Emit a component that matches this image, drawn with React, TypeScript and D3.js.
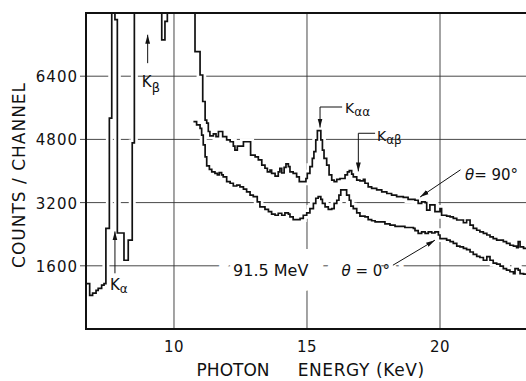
import * as d3 from "d3";
import type { ReactNode } from "react";

const WIDTH = 526;
const HEIGHT = 381;
const MARGIN = { top: 13, right: 0, bottom: 52, left: 86 };

const xTicks = [10, 15, 20];
const yTicks = [1600, 3200, 4800, 6400];

// channels that run past the top of the frame
const OFF = 9000;

// theta = 90 deg : [photon energy (keV), counts / channel]
const theta90: [number, number][] = [
  [6.7, 1150], [6.83, 850], [6.94, 910], [7.07, 980], [7.15, 1030], [7.28, 1110],
  [7.37, 1150], [7.44, 2550], [7.57, 5340], [7.66, OFF], [7.78, 7830], [7.87, 2430],
  [8.12, 1740], [8.28, 2250], [8.43, 4710], [8.51, OFF], [9.54, 7320], [9.66, 7790],
  [9.75, OFF], [10.79, 7020], [10.98, 6430], [11.08, 5760], [11.17, 5290], [11.23, 5210],
  [11.29, 5000], [11.35, 4890], [11.48, 4940], [11.58, 4870], [11.67, 5000], [11.83, 4870],
  [11.98, 4790], [12.11, 4740], [12.23, 4630], [12.29, 4530], [12.38, 4630], [12.61, 4740],
  [12.88, 4400], [13.05, 4360], [13.17, 4280], [13.3, 4150], [13.42, 4070], [13.51, 3980],
  [13.61, 4020], [13.67, 3940], [13.8, 3870], [13.92, 3980], [13.98, 4070], [14.05, 3950],
  [14.14, 4090], [14.21, 4180], [14.3, 4110], [14.36, 3980], [14.48, 3940], [14.61, 3850],
  [14.71, 3730], [14.96, 3810], [15.01, 3940], [15.11, 4110], [15.2, 4320], [15.26, 4490],
  [15.33, 4790], [15.39, 5020], [15.52, 4790], [15.58, 4530], [15.64, 4320], [15.74, 4150],
  [15.83, 3900], [15.93, 3770], [16.02, 3730], [16.12, 3790], [16.24, 3810], [16.43, 3900],
  [16.52, 3980], [16.59, 4010], [16.68, 3920], [16.74, 3850], [16.87, 3770], [16.99, 3750],
  [17.12, 3790], [17.18, 3690], [17.3, 3600], [17.43, 3560], [17.62, 3520], [17.81, 3470],
  [18.0, 3430], [18.18, 3390], [18.37, 3350], [18.62, 3330], [18.8, 3280], [19.06, 3260],
  [19.18, 3180], [19.31, 3220], [19.44, 3200], [19.5, 3010], [19.62, 3140], [19.81, 2970],
  [20.0, 3050], [20.06, 2880], [20.25, 2860], [20.38, 2840], [20.5, 2800], [20.63, 2760],
  [20.88, 2690], [21.0, 2760], [21.13, 2630], [21.25, 2550], [21.38, 2500], [21.5, 2460],
  [21.63, 2420], [21.76, 2380], [21.88, 2330], [22.0, 2290], [22.13, 2250], [22.38, 2210],
  [22.5, 2170], [22.63, 2120], [22.76, 2100], [22.88, 2060], [22.94, 2210], [23.01, 2080],
  [23.14, 2040], [23.3, 2040],
];

// theta = 0 deg
const theta0: [number, number][] = [
  [10.73, 5250], [10.85, 5170], [10.98, 5080], [11.04, 4910], [11.1, 4660], [11.17, 4360],
  [11.23, 4130], [11.33, 4040], [11.42, 3980], [11.54, 3940], [11.63, 3900], [11.7, 3960],
  [11.79, 3900], [11.85, 3850], [11.98, 3730], [12.11, 3690], [12.23, 3620], [12.36, 3640],
  [12.48, 3600], [12.61, 3540], [12.73, 3470], [12.86, 3390], [12.98, 3350], [13.13, 3220],
  [13.23, 3090], [13.42, 3030], [13.55, 2970], [13.67, 2910], [13.8, 2880], [13.92, 2930],
  [14.05, 2880], [14.17, 2940], [14.3, 2910], [14.36, 2840], [14.48, 2770], [14.74, 2800],
  [14.86, 2880], [14.99, 2940], [15.11, 3050], [15.24, 3180], [15.33, 3310], [15.42, 3350],
  [15.52, 3280], [15.58, 3180], [15.68, 3090], [15.8, 3030], [15.93, 3050], [16.02, 3180],
  [16.12, 3260], [16.2, 3390], [16.27, 3520], [16.49, 3390], [16.59, 3260], [16.65, 3110],
  [16.74, 3050], [16.87, 2940], [16.99, 2860], [17.18, 2840], [17.3, 2770], [17.43, 2740],
  [17.56, 2710], [17.93, 2660], [18.12, 2630], [18.31, 2600], [18.68, 2570], [19.0, 2550],
  [19.06, 2490], [19.18, 2420], [19.31, 2460], [19.44, 2420], [19.56, 2460], [19.69, 2430],
  [19.81, 2460], [19.94, 2380], [20.0, 2290], [20.25, 2250], [20.38, 2210], [20.5, 2170],
  [20.63, 2100], [20.75, 2080], [20.88, 2040], [21.0, 2010], [21.13, 1950], [21.25, 1890],
  [21.38, 1840], [21.5, 1810], [21.63, 1740], [21.76, 1830], [21.88, 1740], [22.0, 1670],
  [22.13, 1640], [22.26, 1590], [22.38, 1530], [22.5, 1490], [22.63, 1450], [22.76, 1400],
  [22.82, 1530], [22.94, 1490], [23.01, 1400], [23.14, 1390], [23.3, 1390],
];

const FONT = "'DejaVu Sans', sans-serif";
const INK = "#111";

// text drawn over a white outline of itself, so the grid breaks around it
const HaloText = ({
  x,
  y,
  size,
  halo,
  children,
}: {
  x: number;
  y: number;
  size: number;
  halo: number;
  children: ReactNode;
}) => (
  <g>
    <text x={x} y={y} fontSize={size} fill="white" stroke="white" strokeWidth={halo} strokeLinejoin="round" aria-hidden="true">
      {children}
    </text>
    <text x={x} y={y} fontSize={size} fill={INK}>
      {children}
    </text>
  </g>
);

export default function App() {
  const boundsWidth = WIDTH - MARGIN.left - MARGIN.right;
  const boundsHeight = HEIGHT - MARGIN.top - MARGIN.bottom;

  const x = d3.scaleLinear().domain([6.692, 23.233]).range([0, boundsWidth]);
  const y = d3.scaleLinear().domain([0, 8000]).range([boundsHeight, 0]);

  const lineBuilder = d3
    .line<[number, number]>()
    .x((d) => x(d[0]))
    .y((d) => y(d[1]))
    .curve(d3.curveStepAfter);

  const curves = [theta90, theta0].map((s) => lineBuilder(s) || "");

  return (
    <svg
      width={WIDTH}
      height={HEIGHT}
      style={{ position: "absolute", left: 0, top: 0, background: "white" }}
      fontFamily={FONT}
    >
      <defs>
        <clipPath id="plot-clip">
          <rect x={0} y={0} width={boundsWidth} height={boundsHeight} />
        </clipPath>
        <marker
          id="arrow"
          viewBox="0 0 10 10"
          refX={10}
          refY={5}
          markerWidth={9}
          markerHeight={9}
          markerUnits="userSpaceOnUse"
          orient="auto"
        >
          <path d="M0,2.3 L10,5 L0,7.7 z" fill={INK} />
        </marker>
      </defs>
      <g transform={`translate(${MARGIN.left},${MARGIN.top})`}>
        {/* grid */}
        {yTicks.map((t) => (
          <line key={"gy" + t} x1={-6} x2={boundsWidth} y1={y(t)} y2={y(t)} stroke="#333" strokeWidth={0.9} />
        ))}
        {xTicks.map((t) => (
          <line key={"gx" + t} x1={x(t)} x2={x(t)} y1={0} y2={boundsHeight} stroke="#333" strokeWidth={0.9} />
        ))}

        {/* spectra */}
        <g clipPath="url(#plot-clip)">
          {curves.map((d, i) => (
            <path key={"h" + i} d={d} fill="none" stroke="white" strokeWidth={7} />
          ))}
          {curves.map((d, i) => (
            <path key={"c" + i} d={d} fill="none" stroke={INK} strokeWidth={1.7} />
          ))}
        </g>

        {/* tick labels */}
        {yTicks.map((t) => (
          <text key={"ly" + t} x={-8} y={y(t)} dy="0.4em" textAnchor="end" fontSize={15} letterSpacing={1} fill={INK}>
            {t}
          </text>
        ))}
        {xTicks.map((t) => (
          <text key={"lx" + t} x={x(t)} y={boundsHeight + 23} textAnchor="middle" fontSize={15} letterSpacing={0.5} fill={INK}>
            {t}
          </text>
        ))}

        {/* axis titles */}
        <text x={x(10.85)} y={boundsHeight + 47} fontSize={17} fill={INK}>PHOTON</text>
        <text x={x(14.65)} y={boundsHeight + 47} fontSize={17} letterSpacing={0.6} fill={INK}>ENERGY (KeV)</text>
        <text
          transform={`translate(${-61},${y(3900)}) rotate(-90)`}
          textAnchor="middle"
          fontSize={17}
          letterSpacing={1}
          fill={INK}
        >
          COUNTS / CHANNEL
        </text>

        {/* labels */}
        <text x={x(7.59)} y={y(980)} fontSize={15} fill={INK}>
          K<tspan fontSize={12} dy={3}>α</tspan>
        </text>
        <text x={x(8.79)} y={y(6120)} fontSize={15} fill={INK}>
          K<tspan fontSize={13} dy={5}>β</tspan>
        </text>
        <text x={x(16.43)} y={y(5480)} fontSize={14} fill={INK}>
          K<tspan fontSize={12} dy={3}>αα</tspan>
        </text>
        <text x={x(17.63)} y={y(4760)} fontSize={14} fill={INK}>
          K<tspan fontSize={12} dy={3}>αβ</tspan>
        </text>
        <HaloText x={x(20.94)} y={y(3771)} size={15} halo={9}>
          <tspan fontStyle="italic">θ</tspan>= 90°
        </HaloText>
        <HaloText x={x(16.3)} y={y(1336)} size={15} halo={30}>
          <tspan fontStyle="italic">θ</tspan> = 0°
        </HaloText>
        <HaloText x={x(12.22)} y={y(1336)} size={16} halo={30}>
          91.5 MeV
        </HaloText>

        {/* arrows */}
        <line x1={x(7.78)} x2={x(7.78)} y1={y(1410)} y2={y(2470)} stroke={INK} strokeWidth={1} markerEnd="url(#arrow)" />
        <line x1={x(9.01)} x2={x(9.01)} y1={y(6730)} y2={y(7450)} stroke={INK} strokeWidth={1} markerEnd="url(#arrow)" />
        <path
          d={`M${x(16.32)},${y(5620)} H${x(15.49)} V${y(5100)}`}
          fill="none"
          stroke={INK}
          strokeWidth={1}
          markerEnd="url(#arrow)"
        />
        <path
          d={`M${x(17.56)},${y(4955)} H${x(16.93)} V${y(3990)}`}
          fill="none"
          stroke={INK}
          strokeWidth={1}
          markerEnd="url(#arrow)"
        />
        <line x1={x(20.77)} y1={y(4030)} x2={x(19.25)} y2={y(3340)} stroke={INK} strokeWidth={1} markerEnd="url(#arrow)" />
        <line x1={x(18.23)} y1={y(1615)} x2={x(19.81)} y2={y(2249)} stroke={INK} strokeWidth={1} markerEnd="url(#arrow)" />

        {/* frame: left, top, bottom */}
        <path
          d={`M${boundsWidth},0 H0 V${boundsHeight} H${boundsWidth}`}
          fill="none"
          stroke={INK}
          strokeWidth={2}
        />
      </g>
    </svg>
  );
}
